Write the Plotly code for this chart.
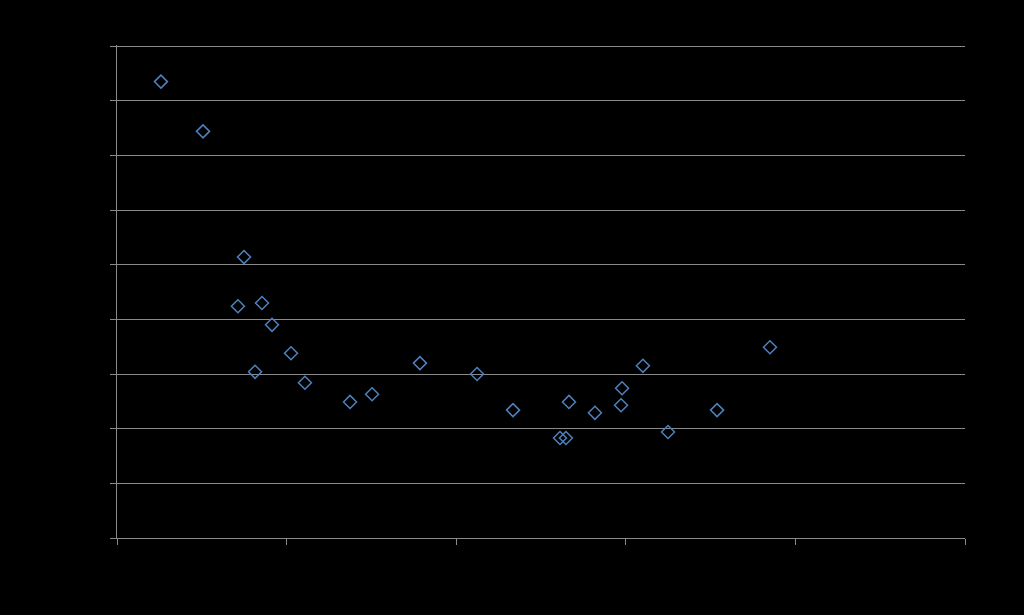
import plotly.graph_objects as go

# Data (axis labels are black on black in the reference)
x_values = [2.59, 5.07, 7.49, 7.13, 8.55, 9.14, 8.14, 10.26, 11.08, 13.74, 15.04, 17.86,
            21.23, 23.35, 26.12, 26.47, 26.65, 28.18, 29.72, 29.78, 31.01, 32.49, 35.38, 38.50]
y_values = [8.35, 7.44, 5.14, 4.24, 4.30, 3.90, 3.04, 3.38, 2.84, 2.49, 2.63, 3.20,
            3.00, 2.34, 1.83, 1.83, 2.49, 2.29, 2.43, 2.74, 3.15, 1.94, 2.34, 3.49]
x_ticks = [0, 10, 20, 30, 40, 50]
y_ticks = [0, 1, 2, 3, 4, 5, 6, 7, 8, 9]

fig = go.Figure()
fig.add_trace(go.Scatter(
    x=x_values, y=y_values, mode="markers",
    marker=dict(symbol="diamond-open", size=10, color="#4F81BD",
                line=dict(width=1.5, color="#4F81BD")),
    showlegend=False,
))

grid = "#8a8a8a"
fig.update_layout(
    width=1024, height=615,
    paper_bgcolor="black", plot_bgcolor="black",
    margin=dict(l=117, r=59, t=45, b=77),
    font=dict(family="Liberation Sans", size=12, color="black"),
    xaxis=dict(range=[0, 50], tickvals=x_ticks, showgrid=False, zeroline=False,
               showline=True, linecolor=grid, linewidth=1,
               ticks="outside", ticklen=6, tickcolor=grid,
               tickfont=dict(color="black")),
    yaxis=dict(range=[0, 9.02], tickvals=y_ticks, showgrid=True, gridcolor=grid, gridwidth=1,
               zeroline=False, showline=True, linecolor=grid, linewidth=1,
               ticks="outside", ticklen=6, tickcolor=grid,
               tickfont=dict(color="black")),
)

fig.write_html(
    "out.html",
    config={"displayModeBar": False},
    post_script="document.body.style.margin='0';document.body.style.background='black';",
)
